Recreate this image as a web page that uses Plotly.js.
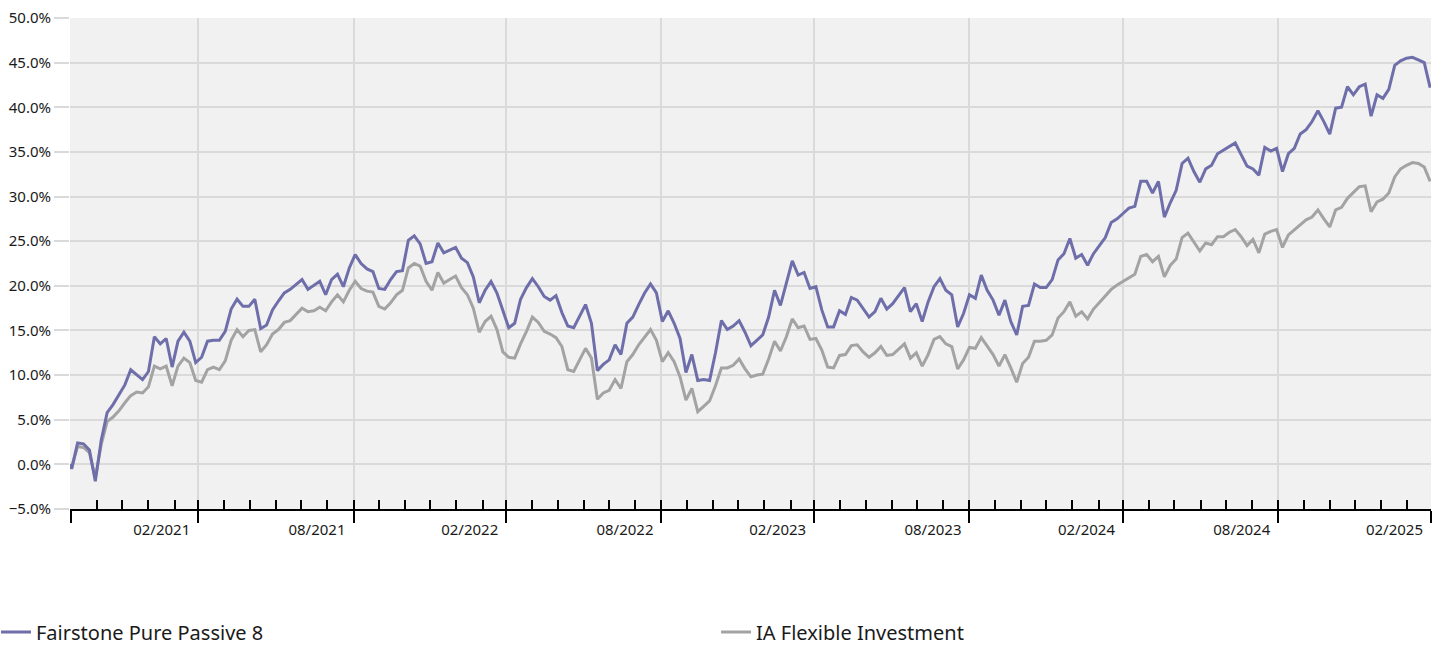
<!DOCTYPE html>
<html>
<head>
<meta charset="utf-8">
<script src="https://cdn.plot.ly/plotly-3.0.1.min.js"></script>
<style>html,body{margin:0;padding:0;background:#fff;}#chart{width:1443px;height:645px;}</style>
</head>
<body>
<div id="chart"></div>
<script>
// Weekly dates (first point is the base date)
const dates = [
'2020-09-30',
'2020-10-02','2020-10-09','2020-10-16','2020-10-23','2020-10-30','2020-11-06','2020-11-13','2020-11-20','2020-11-27','2020-12-04','2020-12-11','2020-12-18','2020-12-25',
'2021-01-01','2021-01-08','2021-01-15','2021-01-22','2021-01-29','2021-02-05','2021-02-12','2021-02-19','2021-02-26','2021-03-05','2021-03-12','2021-03-19','2021-03-26',
'2021-04-02','2021-04-09','2021-04-16','2021-04-23','2021-04-30','2021-05-07','2021-05-14','2021-05-21','2021-05-28','2021-06-04','2021-06-11','2021-06-18','2021-06-25',
'2021-07-02','2021-07-09','2021-07-16','2021-07-23','2021-07-30','2021-08-06','2021-08-13','2021-08-20','2021-08-27','2021-09-03','2021-09-10','2021-09-17','2021-09-24',
'2021-10-01','2021-10-08','2021-10-15','2021-10-22','2021-10-29','2021-11-05','2021-11-12','2021-11-19','2021-11-26','2021-12-03','2021-12-10','2021-12-17','2021-12-24','2021-12-31',
'2022-01-07','2022-01-14','2022-01-21','2022-01-28','2022-02-04','2022-02-11','2022-02-18','2022-02-25','2022-03-04','2022-03-11','2022-03-18','2022-03-25',
'2022-04-01','2022-04-08','2022-04-15','2022-04-22','2022-04-29','2022-05-06','2022-05-13','2022-05-20','2022-05-27','2022-06-03','2022-06-10','2022-06-17','2022-06-24',
'2022-07-01','2022-07-08','2022-07-15','2022-07-22','2022-07-29','2022-08-05','2022-08-12','2022-08-19','2022-08-26','2022-09-02','2022-09-09','2022-09-16','2022-09-23','2022-09-30',
'2022-10-07','2022-10-14','2022-10-21','2022-10-28','2022-11-04','2022-11-11','2022-11-18','2022-11-25','2022-12-02','2022-12-09','2022-12-16','2022-12-23','2022-12-30',
'2023-01-06','2023-01-13','2023-01-20','2023-01-27','2023-02-03','2023-02-10','2023-02-17','2023-02-24','2023-03-03','2023-03-10','2023-03-17','2023-03-24','2023-03-31',
'2023-04-07','2023-04-14','2023-04-21','2023-04-28','2023-05-05','2023-05-12','2023-05-19','2023-05-26','2023-06-02','2023-06-09','2023-06-16','2023-06-23','2023-06-30',
'2023-07-07','2023-07-14','2023-07-21','2023-07-28','2023-08-04','2023-08-11','2023-08-18','2023-08-25','2023-09-01','2023-09-08','2023-09-15','2023-09-22','2023-09-29',
'2023-10-06','2023-10-13','2023-10-20','2023-10-27','2023-11-03','2023-11-10','2023-11-17','2023-11-24','2023-12-01','2023-12-08','2023-12-15','2023-12-22','2023-12-29',
'2024-01-05','2024-01-12','2024-01-19','2024-01-26','2024-02-02','2024-02-09','2024-02-16','2024-02-23','2024-03-01','2024-03-08','2024-03-15','2024-03-22','2024-03-29',
'2024-04-05','2024-04-12','2024-04-19','2024-04-26','2024-05-03','2024-05-10','2024-05-17','2024-05-24','2024-05-31','2024-06-07','2024-06-14','2024-06-21','2024-06-28',
'2024-07-05','2024-07-12','2024-07-19','2024-07-26','2024-08-02','2024-08-09','2024-08-16','2024-08-23','2024-08-30','2024-09-06','2024-09-13','2024-09-20','2024-09-27',
'2024-10-04','2024-10-11','2024-10-18','2024-10-25','2024-11-01','2024-11-08','2024-11-15','2024-11-22','2024-11-29','2024-12-06','2024-12-13','2024-12-20','2024-12-27',
'2025-01-03','2025-01-10','2025-01-17','2025-01-24','2025-01-31','2025-02-07','2025-02-14','2025-02-21','2025-02-28'
];

const fairstone = [
0,
-0.5,2.4,2.3,1.6,-1.9,2.7,5.8,6.7,7.8,8.9,10.6,10.1,9.5,
10.4,14.3,13.5,14.1,10.9,13.8,14.8,13.8,11.4,12.0,13.8,13.9,13.9,
14.9,17.4,18.5,17.7,17.7,18.5,15.2,15.6,17.3,18.3,19.2,19.6,20.1,
20.7,19.6,20.1,20.5,19.0,20.7,21.3,19.9,22.0,23.5,22.5,21.9,21.6,
19.7,19.6,20.7,21.6,21.7,25.1,25.6,24.7,22.5,22.7,24.8,23.7,24.0,24.3,
23.1,22.6,21.0,18.1,19.5,20.5,19.2,17.3,15.3,15.8,18.5,19.8,
20.8,19.9,18.8,18.4,18.9,17.0,15.5,15.3,16.6,17.9,15.8,10.5,11.2,
11.7,13.4,12.3,15.8,16.5,17.9,19.2,20.2,19.2,16.0,17.2,15.8,14.1,10.3,
12.3,9.4,9.5,9.4,12.5,16.1,15.1,15.5,16.1,14.8,13.3,13.9,14.5,
16.5,19.5,17.8,20.3,22.8,21.2,21.5,19.7,19.9,17.3,15.4,15.4,17.2,
16.8,18.7,18.4,17.4,16.5,17.1,18.6,17.4,18.0,18.9,19.8,17.1,18.0,
16.0,18.2,19.9,20.8,19.5,19.0,15.4,16.9,19.0,18.6,21.2,19.5,18.4,
16.7,18.4,16.0,14.5,17.7,17.8,20.2,19.8,19.8,20.7,22.9,23.6,25.3,
23.1,23.5,22.3,23.6,24.5,25.4,27.1,27.5,28.1,28.7,28.9,31.7,31.7,
30.4,31.7,27.7,29.3,30.7,33.7,34.3,32.8,31.6,33.1,33.5,34.8,35.2,
35.6,36.0,34.7,33.4,33.1,32.4,35.5,35.1,35.4,32.8,34.8,35.4,37.0,
37.5,38.4,39.6,38.4,37.0,39.9,40.0,42.3,41.4,42.3,42.6,39.0,41.4,
41.0,42.0,44.7,45.2,45.5,45.6,45.3,45.0,42.2
];

const iaFlexible = [
0,
-0.3,2.0,1.9,1.3,-1.5,2.2,4.8,5.3,6.0,6.9,7.7,8.1,8.0,
8.7,11.0,10.7,11.0,8.8,11.0,11.9,11.4,9.4,9.2,10.6,10.9,10.6,
11.6,13.9,15.1,14.3,15.0,15.1,12.6,13.4,14.6,15.1,15.9,16.1,16.8,
17.5,17.1,17.2,17.6,17.2,18.2,19.0,18.2,19.5,20.5,19.7,19.4,19.3,
17.7,17.4,18.1,19.0,19.5,22.0,22.5,22.2,20.5,19.5,21.5,20.3,20.7,21.1,
19.8,19.0,17.5,14.8,16.0,16.6,15.1,12.6,12.0,11.9,13.5,14.9,
16.5,15.9,14.9,14.6,14.2,13.2,10.6,10.4,11.7,13.0,11.9,7.3,8.0,
8.3,9.5,8.5,11.5,12.3,13.4,14.3,15.1,13.9,11.5,12.5,11.5,9.8,7.2,
8.5,5.9,6.5,7.1,8.8,10.8,10.8,11.1,11.8,10.7,9.8,10.0,10.1,
11.8,13.8,12.7,14.3,16.3,15.3,15.5,14.0,14.1,12.8,10.9,10.8,12.2,
12.3,13.3,13.4,12.6,12.0,12.5,13.2,12.2,12.3,12.9,13.5,11.9,12.5,
11.0,12.3,14.0,14.3,13.5,13.2,10.7,11.7,13.1,13.0,14.2,13.3,12.3,
11.0,12.3,10.8,9.2,11.3,12.0,13.8,13.8,13.9,14.5,16.4,17.1,18.2,
16.6,17.1,16.3,17.4,18.1,18.9,19.6,20.1,20.5,20.9,21.3,23.3,23.5,
22.7,23.3,21.0,22.3,23.0,25.4,25.9,24.9,23.9,24.8,24.6,25.5,25.5,
26.0,26.3,25.5,24.5,25.2,23.7,25.8,26.1,26.3,24.3,25.7,26.3,26.9,
27.4,27.7,28.5,27.5,26.6,28.5,28.8,29.8,30.4,31.1,31.2,28.3,29.4,
29.7,30.4,32.2,33.1,33.5,33.8,33.7,33.3,31.7
];

const seriesNames = ['Fairstone Pure Passive 8', 'IA Flexible Investment'];
const majorTicks = ['2020-10-01','2021-03-01','2021-09-01','2022-03-01','2022-09-01','2023-03-01','2023-09-01','2024-03-01','2024-09-01','2025-03-01'];
const majorLabels = ['','02/2021','08/2021','02/2022','08/2022','02/2023','08/2023','02/2024','08/2024','02/2025'];
const xRange = ['2020-09-30','2025-03-01'];

const FONT = '"Noto Sans", "Open Sans", sans-serif';
const TXT = '#1a1a1a';

const traces = [
  {x: dates, y: fairstone, name: seriesNames[0], type: 'scatter', mode: 'lines',
   xaxis: 'x2', yaxis: 'y', legend: 'legend', line: {color: '#6e6eaa', width: 3}},
  {x: dates, y: iaFlexible, name: seriesNames[1], type: 'scatter', mode: 'lines',
   xaxis: 'x', yaxis: 'y', legend: 'legend2', line: {color: '#a3a3a3', width: 3}}
];

const legendBase = {orientation: 'h', xanchor: 'left', y: -0.2505, yanchor: 'middle',
  font: {family: FONT, size: 20, color: TXT}, itemwidth: 30, bgcolor: 'rgba(0,0,0,0)', borderwidth: 0};

const layout = {
  width: 1443, height: 645,
  margin: {l: 70, r: 12, t: 18, b: 136, autoexpand: false},
  paper_bgcolor: '#ffffff',
  plot_bgcolor: '#f1f1f1',
  font: {family: FONT, size: 15, color: TXT},
  showlegend: true,
  legend: Object.assign({}, legendBase, {x: -0.0544}),
  legend2: Object.assign({}, legendBase, {x: 0.4747}),
  xaxis: {
    type: 'date', range: xRange, automargin: false,
    tickmode: 'array', tickvals: majorTicks, ticktext: majorLabels,
    ticks: 'outside', ticklen: 12, tickwidth: 2, tickcolor: '#000',
    ticklabelposition: 'outside left', ticklabelstandoff: 6, ticklabelshift: -6,
    showline: true, linecolor: '#000', linewidth: 2,
    showgrid: true, gridcolor: '#dadada', gridwidth: 2,
    zeroline: false, tickfont: {size: 15, color: TXT}
  },
  xaxis2: {
    type: 'date', range: xRange, overlaying: 'x', anchor: 'y', side: 'bottom', automargin: false,
    tickmode: 'linear', tick0: '2020-10-01', dtick: 'M1',
    ticks: 'inside', ticklen: 9, tickwidth: 2, tickcolor: '#000',
    showticklabels: false, showgrid: false, showline: false, zeroline: false
  },
  yaxis: {
    range: [-5, 50], tickmode: 'linear', tick0: -5, dtick: 5, automargin: false,
    tickformat: '.1f', ticksuffix: '%',
    ticks: 'outside', ticklen: 15, tickwidth: 2, tickcolor: '#dadada',
    showgrid: true, gridcolor: '#dadada', gridwidth: 2,
    zeroline: false, showline: false,
    tickfont: {size: 15, color: TXT}
  }
};

Plotly.newPlot('chart', traces, layout, {staticPlot: true, displayModeBar: false});
</script>
</body>
</html>
